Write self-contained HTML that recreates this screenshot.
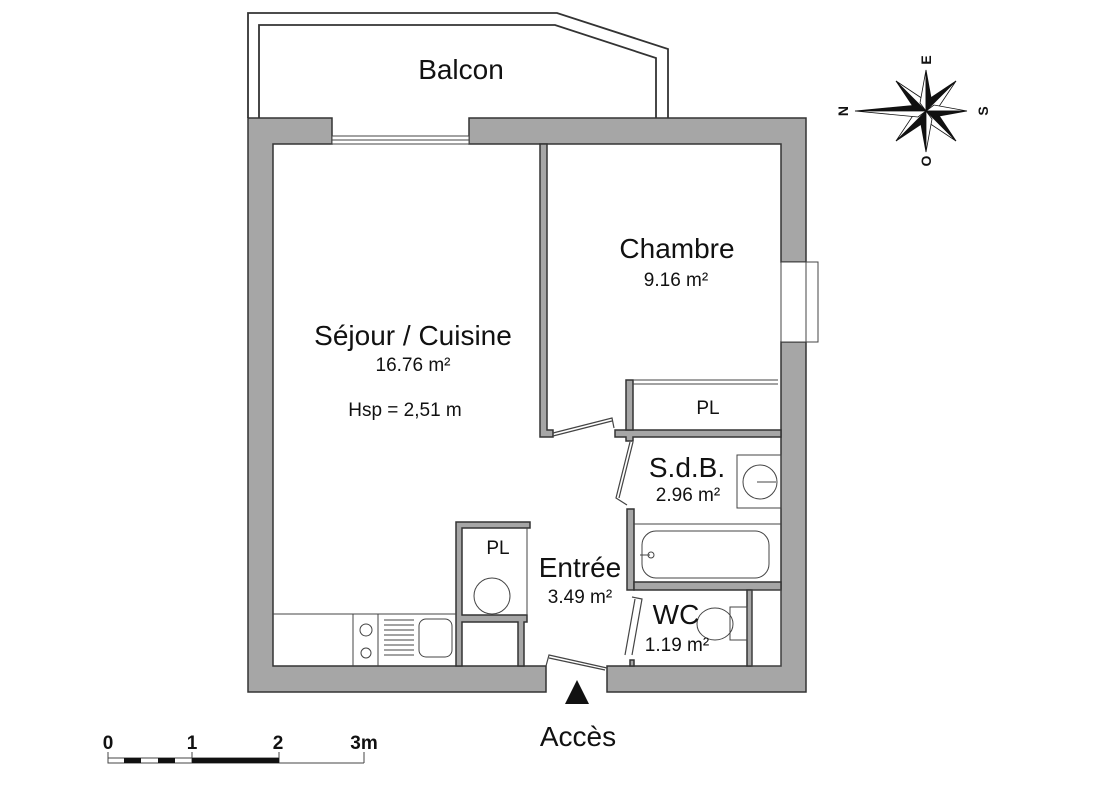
<!DOCTYPE html>
<html><head><meta charset="utf-8"><style>
html,body{margin:0;padding:0;background:#fff;width:1107px;height:800px;overflow:hidden}
svg{display:block}
text{font-family:"Liberation Sans",Arial,sans-serif;fill:#111}
</style></head><body>
<svg width="1107" height="800" viewBox="0 0 1107 800">
<path d="M248,118 L248,13 L557,13 L668,49 L668,118" fill="none" stroke="#333" stroke-width="1.8"/>
<path d="M259,118 L259,25 L555,25 L656,58 L656,118" fill="none" stroke="#333" stroke-width="1.8"/>
<g fill="#a6a6a6" stroke="#333" stroke-width="1.5">
<path d="M248,118 H332 V144 H273 V666 H546 V692 H248 Z"/>
<path d="M469,118 H806 V262 H781 V144 H469 Z"/>
<path d="M781,342 H806 V692 H607 V666 H781 Z"/>
<path d="M540,144 H547 V430 H553 V437 H540 Z"/>
<path d="M615,430 H781 V437 H633 V441 H626 V437 H615 Z"/>
<rect x="626" y="380" width="7" height="50"/>
<rect x="627" y="509" width="7" height="81"/>
<rect x="634" y="582" width="147" height="8"/>
<rect x="747" y="590" width="5" height="76"/>
<rect x="630" y="660" width="4" height="6"/>
<path d="M456,522 H530 V528 H462 V615 H527 V622 H524 V666 H518 V622 H462 V666 H456 Z"/>
</g>
<g fill="#fff" stroke="#444" stroke-width="1">
<rect x="332" y="136" width="137" height="8"/>
<line x1="332" y1="140" x2="469" y2="140"/>
<rect x="781" y="262" width="37" height="80"/>
<line x1="806" y1="262" x2="806" y2="342"/>
<line x1="633" y1="380" x2="778" y2="380"/>
<line x1="633" y1="384" x2="778" y2="384"/>
<line x1="527" y1="528" x2="527" y2="615"/>
</g>
<g fill="none" stroke="#444" stroke-width="1.2">
<path d="M553,433 L612,418 L614,428"/>
<path d="M553,436 L612,421"/>
<path d="M630,442 L616,498 L627,505"/>
<path d="M633,442 L619,498"/>
<path d="M632,597 L642,599 L632,655"/>
<path d="M635,599 L625,655"/>
<path d="M546,666 L549,655 L607,668"/>
<path d="M549,658 L605,670"/>
</g>
<g fill="none" stroke="#444" stroke-width="1">
<line x1="273" y1="614" x2="456" y2="614"/>
<line x1="353" y1="614" x2="353" y2="666"/>
<line x1="378" y1="614" x2="378" y2="666"/>
<circle cx="366" cy="630" r="6"/>
<circle cx="366" cy="653" r="5"/>
<rect x="419" y="619" width="33" height="38" rx="7"/>
<path d="M384,620 H414 M384,625 H414 M384,630 H414 M384,635 H414 M384,640 H414 M384,645 H414 M384,650 H414 M384,655 H414"/>
<circle cx="492" cy="596" r="18"/>
<rect x="737" y="455" width="44" height="53"/>
<circle cx="760" cy="482" r="17"/>
<line x1="757" y1="482" x2="776" y2="482"/>
<line x1="634" y1="524" x2="781" y2="524"/>
<rect x="642" y="531" width="127" height="47" rx="14"/>
<line x1="640" y1="555" x2="650" y2="555"/>
<circle cx="651" cy="555" r="3"/>
<rect x="730" y="607" width="17" height="33"/>
<ellipse cx="715" cy="624" rx="18" ry="16"/>
<rect x="752" y="590" width="29" height="76"/>
</g>
<text x="461" y="79" font-size="28" text-anchor="middle">Balcon</text>
<text x="677" y="258" font-size="28" text-anchor="middle">Chambre</text>
<text x="676" y="286" font-size="19" text-anchor="middle">9.16 m²</text>
<text x="413" y="345" font-size="28" text-anchor="middle">Séjour / Cuisine</text>
<text x="413" y="371" font-size="19" text-anchor="middle">16.76 m²</text>
<text x="405" y="416" font-size="19" text-anchor="middle">Hsp =  2,51 m</text>
<text x="708" y="414" font-size="19" text-anchor="middle">PL</text>
<text x="687" y="477" font-size="28" text-anchor="middle">S.d.B.</text>
<text x="688" y="501" font-size="19" text-anchor="middle">2.96 m²</text>
<text x="498" y="554" font-size="19" text-anchor="middle">PL</text>
<text x="580" y="577" font-size="28" text-anchor="middle">Entrée</text>
<text x="580" y="603" font-size="19" text-anchor="middle">3.49 m²</text>
<text x="676" y="624" font-size="28" text-anchor="middle">WC</text>
<text x="677" y="651" font-size="19" text-anchor="middle">1.19 m²</text>
<path d="M565,704 L577,680 L589,704 Z" fill="#111"/>
<text x="578" y="746" font-size="28" text-anchor="middle">Accès</text>
<g stroke="#444" stroke-width="1" fill="none">
<path d="M108,752 V763 M192,752 V763 M279,752 V763 M364,752 V763 M108,763 H364"/>
<rect x="108" y="758" width="171" height="5"/>
</g>
<rect x="124" y="758" width="17" height="5" fill="#111"/>
<rect x="158" y="758" width="17" height="5" fill="#111"/>
<rect x="192" y="758" width="87" height="5" fill="#111"/>
<g font-size="19" font-weight="bold" text-anchor="middle">
<text x="108" y="749">0</text><text x="192" y="749">1</text><text x="278" y="749">2</text><text x="364" y="749">3m</text>
</g>
<g transform="translate(926,111)" stroke="#111" stroke-width="0.8">
<path d="M0,0 L-30,-30 L-10,0 Z" fill="#111"/><path d="M0,0 L-30,-30 L0,-10 Z" fill="#fff"/>
<path d="M0,0 L30,-30 L0,-10 Z" fill="#111"/><path d="M0,0 L30,-30 L10,0 Z" fill="#fff"/>
<path d="M0,0 L-30,30 L0,10 Z" fill="#111"/><path d="M0,0 L-30,30 L-10,0 Z" fill="#fff"/>
<path d="M0,0 L30,30 L10,0 Z" fill="#111"/><path d="M0,0 L30,30 L0,10 Z" fill="#fff"/>
<path d="M0,0 L-71,0 L-8,-6 Z" fill="#111"/><path d="M0,0 L-71,0 L-8,6 Z" fill="#fff"/>
<path d="M0,0 L41,0 L8,-6 Z" fill="#fff"/><path d="M0,0 L41,0 L8,6 Z" fill="#111"/>
<path d="M0,0 L0,-41 L-6,-8 Z" fill="#fff"/><path d="M0,0 L0,-41 L6,-8 Z" fill="#111"/>
<path d="M0,0 L0,41 L-6,8 Z" fill="#111"/><path d="M0,0 L0,41 L6,8 Z" fill="#fff"/>
</g>
<g font-size="14" font-weight="bold" text-anchor="middle">
<text transform="translate(843,111) rotate(-90)" y="5">N</text>
<text transform="translate(926,60) rotate(-90)" y="5">E</text>
<text transform="translate(983,111) rotate(-90)" y="5">S</text>
<text transform="translate(926,161) rotate(-90)" y="5">O</text>
</g>
</svg>
</body></html>
